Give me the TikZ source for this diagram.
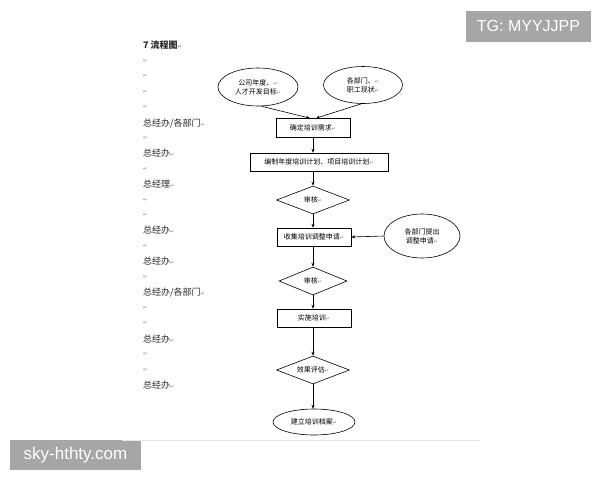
\documentclass[tikz,border=0pt]{standalone}
\usepackage{fontspec}
\setmainfont{Noto Sans CJK SC}
\newfontfamily\symfont{DejaVu Sans}
\newfontfamily\wmfont{Liberation Sans}
\usetikzlibrary{shapes.geometric,arrows.meta}
\newcommand{\retmark}{{\symfont\fontsize{5}{5}\selectfont\color{gray}↵}}
\definecolor{wmgray}{HTML}{A6A6A6}
\begin{document}
\begin{tikzpicture}[x=1pt,y=-1pt,
  flow/.style={draw, line width=0.6pt, inner sep=0pt, font=\fontsize{7}{9}\selectfont, align=center},
  boxnode/.style={flow, rectangle},
  dianode/.style={flow, diamond, aspect=2.6},
  ellnode/.style={flow, ellipse},
  arr/.style={-{Stealth[length=4pt,width=3.2pt]}, line width=0.6pt},
  lefttext/.style={anchor=west, inner sep=0pt, font=\fontsize{9}{9}\selectfont, text=black!85},
  wm/.style={fill=wmgray, text=white, font=\wmfont\fontsize{16}{16}\selectfont, inner sep=0pt, anchor=center}
]
\useasboundingbox (0,0) rectangle (600,480);
\fill[white] (0,0) rectangle (600,480);

% watermarks
\node[wm, minimum width=125, minimum height=31] (wm1) at (528.5,26) {TG: MYYJJPP};
\node[wm, minimum width=131, minimum height=30, font=\wmfont\fontsize{17}{17}\selectfont] (wm2) at (75.5,455) {sky-hthty.com};

% bottom page line
\coordinate (pl) at (122,440);
\coordinate (pr) at (480,440);
\draw[black!10, line width=0.6pt] (pl) -- (pr);

% left column
\node[lefttext, font=\bfseries\fontsize{9}{9}\selectfont] (t0) at (143,45) {7 流程图\retmark};
\node[lefttext] (l1) at (143,61) {\retmark};
\node[lefttext] (l2) at (143,76) {\retmark};
\node[lefttext] (l3) at (143,92) {\retmark};
\node[lefttext] (l4) at (143,107) {\retmark};
\node[lefttext] (l5) at (143,123) {总经办/各部门\retmark};
\node[lefttext] (l6) at (143,138) {\retmark};
\node[lefttext] (l7) at (143,153) {总经办\retmark};
\node[lefttext] (l8) at (143,169) {\retmark};
\node[lefttext] (l9) at (143,184) {总经理\retmark};
\node[lefttext] (l10) at (143,200) {\retmark};
\node[lefttext] (l11) at (143,215) {\retmark};
\node[lefttext] (l12) at (143,230) {总经办\retmark};
\node[lefttext] (l13) at (143,246) {\retmark};
\node[lefttext] (l14) at (143,261) {总经办\retmark};
\node[lefttext] (l15) at (143,277) {\retmark};
\node[lefttext] (l16) at (143,292) {总经办/各部门\retmark};
\node[lefttext] (l17) at (143,308) {\retmark};
\node[lefttext] (l18) at (143,323) {\retmark};
\node[lefttext] (l19) at (143,339) {总经办\retmark};
\node[lefttext] (l20) at (143,354) {\retmark};
\node[lefttext] (l21) at (143,370) {\retmark};
\node[lefttext] (l22) at (143,385) {总经办\retmark};

% flowchart
\node[ellnode, minimum width=80, minimum height=38] (e1) at (258,87) {公司年度、\retmark\\人才开发目标\retmark};
\node[ellnode, minimum width=79, minimum height=37] (e2) at (363,85) {各部门、\retmark\\职工现状\retmark};
\node[boxnode, minimum width=74, minimum height=19] (b1) at (313,128) {确定培训需求\retmark};
\node[boxnode, minimum width=138, minimum height=18] (b2) at (319,162) {编制年度培训计划、项目培训计划\retmark};
\node[dianode, minimum width=73, minimum height=28] (d1) at (313,200) {审核\retmark};
\node[boxnode, minimum width=74, minimum height=18] (b3) at (314,237) {收集培训调整申请\retmark};
\node[ellnode, minimum width=76, minimum height=44] (e3) at (422,236) {各部门提出\\调整申请\retmark};
\node[dianode, minimum width=68, minimum height=28] (d2) at (313,281) {审核\retmark};
\node[boxnode, minimum width=74, minimum height=18] (b4) at (314,318) {实施培训\retmark};
\node[dianode, minimum width=73, minimum height=28] (d3) at (313,370) {效果评估\retmark};
\node[ellnode, minimum width=82, minimum height=26] (e4) at (314,422) {建立培训档案\retmark};

\draw[arr] (e1.-80) -- ([xshift=-3]b1.north);
\draw[arr] (e2.-95) -- ([xshift=3]b1.north);
\draw[arr] (b1.south) -- (b1.south |- b2.north);
\draw[arr] (d1.north |- b2.south) -- (d1.north);
\draw[arr] (d1.south) -- (d1.south |- b3.north);
\draw[arr] (e3.west) -- (b3.east);
\draw[arr] (d2.north |- b3.south) -- (d2.north);
\draw[arr] (d2.south) -- (d2.south |- b4.north);
\draw[arr] (d3.north |- b4.south) -- (d3.north);
\draw[arr] (d3.south) -- (d3.south |- e4.north);
\end{tikzpicture}
\end{document}
